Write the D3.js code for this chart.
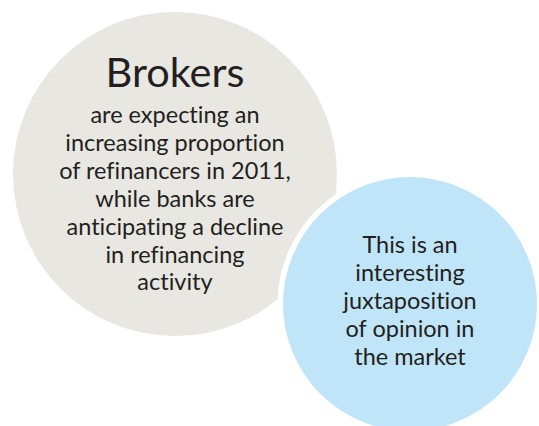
<html lang="en"><head>
<meta http-equiv="Content-Type" content="text/html; charset=UTF-8">
<title>Brokers vs banks</title>
<script type="text/javascript" src="https://cdn.jsdelivr.net/npm/d3@7"></script>
<style type="text/css">
body { margin: 0; background: #fff; }
svg { display: block; }
text { font-variant-ligatures: none; }
</style>
</head>
<body>

<script type="text/javascript">

var width = 539;
var height = 426;

// the two bubbles
var bubbleNames = ["brokers", "opinion"];
var bubbleTitles = ["Brokers", ""];
var bubbleLines = [
  ["are expecting an", "increasing proportion", "of refinancers in 2011,",
   "while banks are", "anticipating a decline", "in refinancing", "activity"],
  ["This is an", "interesting", "juxtaposition", "of opinion in", "the market"]
];
var bubbleColors = ["#e8e7e2", "#c0e5f8"];

// layout (pixels)
var layout = {
  brokers: {cx: 175, cy: 174, r: 162, titleY: 87, firstLine: 123},
  opinion: {cx: 410, cy: 304, r: 127, titleY: 0, firstLine: 253}
};
var lineGap = 27.9;
var font = "Lato, 'Open Sans', sans-serif";

var svg = d3.select("body")
            .append("svg")
            .attr("width", width)
            .attr("height", height);

var bubbles = bubbleNames.map(function(name, i){
  return {name: name, title: bubbleTitles[i], lines: bubbleLines[i],
          color: bubbleColors[i], pos: layout[name]};
});

// grey bubble first, then a white ring to cut it, then the blue one
svg.append("circle")
   .attr("cx", bubbles[0].pos.cx)
   .attr("cy", bubbles[0].pos.cy)
   .attr("r", bubbles[0].pos.r)
   .attr("fill", bubbles[0].color);

svg.append("circle")
   .attr("cx", bubbles[1].pos.cx)
   .attr("cy", bubbles[1].pos.cy)
   .attr("r", bubbles[1].pos.r + 5.5)
   .attr("fill", "#fff");

svg.append("circle")
   .attr("cx", bubbles[1].pos.cx)
   .attr("cy", bubbles[1].pos.cy)
   .attr("r", bubbles[1].pos.r)
   .attr("fill", bubbles[1].color);

var groups = svg.selectAll(".bubble_text")
                .data(bubbles).enter()
                .append("g")
                .attr("class", "bubble_text")
                .attr("font-family", font)
                .attr("fill", "#231f20")
                .attr("text-anchor", "middle");

groups.filter(function(d){ return d.title !== ""; })
      .append("text")
      .attr("x", function(d){ return d.pos.cx; })
      .attr("y", function(d){ return d.pos.titleY; })
      .attr("font-size", 41.5)
      .text(function(d){ return d.title; });

groups.selectAll(".line")
      .data(function(d){
        return d.lines.map(function(t, j){ return {text: t, j: j, pos: d.pos}; });
      }).enter()
      .append("text")
      .attr("class", "line")
      .attr("x", function(d){ return d.pos.cx; })
      .attr("y", function(d){ return d.pos.firstLine + d.j * lineGap; })
      .attr("font-size", 23.5)
      .text(function(d){ return d.text; });

</script>
</body></html>
